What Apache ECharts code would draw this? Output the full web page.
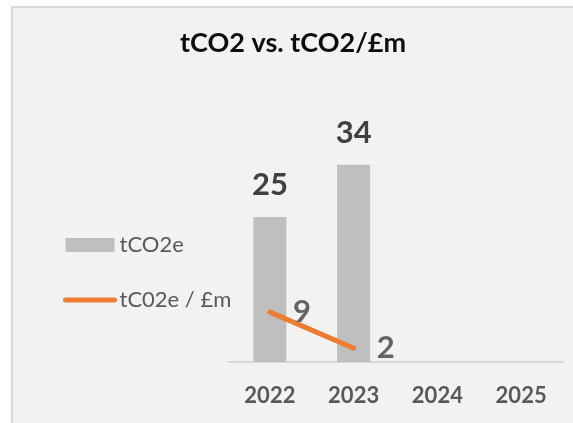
<!DOCTYPE html>
<html>
<head>
<meta charset="utf-8">
<script src="https://cdn.jsdelivr.net/npm/echarts@6/dist/echarts.min.js"></script>
<style>
  html, body { margin: 0; padding: 0; background: #ffffff; }
  #main { width: 573px; height: 423px; }
</style>
</head>
<body>
<div id="main"></div>
<script>
// 数据
var years = ['2022', '2023', '2024', '2025'];
var tco2e = [25, 34, null, null];          // 柱
var tco2ePerM = [8.6, 2.4, null, null];    // 折线 (标签显示 9 / 2)

var myChart = echarts.init(document.getElementById('main'));

var option = {
    animation: false,
    textStyle: { fontFamily: 'Lato' },
    graphic: [
        {
            type: 'rect',
            z: -10,
            silent: true,
            shape: { x: 12, y: 7, width: 620, height: 480 },
            style: { fill: '#f2f2f2', stroke: '#d9d9d9', lineWidth: 2 }
        }
    ],
    title: {
        text: 'tCO2 vs. tCO2/£m',
        left: 293,
        top: 30,
        textAlign: 'center',
        padding: 0,
        textStyle: { fontFamily: 'Lato', fontWeight: 'bold', fontSize: 27, color: '#0d0d0d' }
    },
    legend: {
        orient: 'vertical',
        left: 63,
        top: 234,
        padding: 0,
        itemWidth: 49,
        itemHeight: 14,
        itemGap: 33,
        textStyle: { fontFamily: 'Lato', fontSize: 22, lineHeight: 14, color: '#595959' },
        data: [
            { name: 'tCO2e', icon: 'rect' },
            {
                name: 'tC02e / £m',
                itemStyle: { opacity: 0 },
                lineStyle: { width: 5, cap: 'round', color: '#ed7d31' }
            }
        ]
    },
    grid: {
        left: 228,
        right: 10,
        top: 130,
        bottom: 61,
        containLabel: false
    },
    xAxis: {
        type: 'category',
        data: years,
        axisTick: { show: false },
        axisLine: { lineStyle: { color: '#d9d9d9', width: 2 } },
        axisLabel: {
            margin: 23,
            fontFamily: 'Lato',
            fontWeight: 'bold',
            fontSize: 22,
            lineHeight: 22,
            color: '#595959'
        }
    },
    yAxis: {
        type: 'value',
        min: 0,
        max: 40,
        show: false,
        splitLine: { show: false }
    },
    series: [
        {
            name: 'tCO2e',
            type: 'bar',
            barWidth: 33,
            data: tco2e,
            itemStyle: { color: '#bfbfbf' },
            label: {
                show: true,
                position: 'top',
                distance: 17,
                fontFamily: 'Lato',
                fontWeight: 'bold',
                fontSize: 31,
                lineHeight: 30,
                color: '#404040'
            }
        },
        {
            name: 'tC02e / £m',
            type: 'line',
            data: tco2ePerM,
            symbol: 'none',
            lineStyle: { color: '#ed7d31', width: 5, cap: 'round' },
            itemStyle: { color: '#ed7d31' },
            z: 3
        },
        {
            // 折线的数据标签
            name: 'label',
            type: 'scatter',
            data: tco2ePerM,
            symbolSize: 2,
            itemStyle: { color: 'rgba(0,0,0,0)' },
            label: {
                show: true,
                position: 'right',
                distance: 22,
                fontFamily: 'Lato',
                fontWeight: 'bold',
                fontSize: 31,
                lineHeight: 30,
                color: '#404040',
                formatter: function (p) { return Math.round(p.value); }
            },
            z: 4
        }
    ]
};

myChart.setOption(option);
</script>
</body>
</html>
